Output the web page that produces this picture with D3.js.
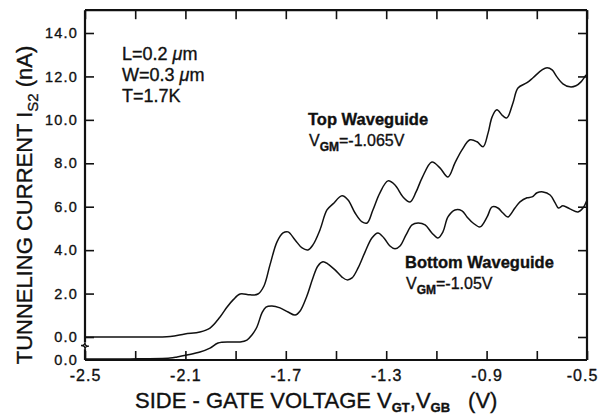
<!DOCTYPE html>
<html>
<head>
<meta charset="utf-8">
<script src="https://cdn.jsdelivr.net/npm/d3@7"></script>
<style>
body{margin:0;background:#fff;}
svg text{font-family:"Liberation Sans",Arial,sans-serif;fill:#111;stroke:#111;stroke-width:0.35px;}
</style>
</head>
<body>
<svg id="chart" width="601" height="417"></svg>
<script>
// tunnelling current vs side-gate voltage
// top waveguide (V_GM = -1.065 V)
var topV = [-2.5,-2.321,-2.161,-2.102,-2.042,-2.002,-1.962,-1.934,-1.910,-1.882,-1.843,-1.811,-1.787,-1.763,-1.735,-1.711,-1.691,-1.663,-1.635,-1.612,-1.592,-1.564,-1.536,-1.512,-1.476,-1.452,-1.424,-1.396,-1.376,-1.353,-1.325,-1.293,-1.265,-1.233,-1.205,-1.181,-1.157,-1.118,-1.086,-1.054,-1.026,-0.998,-0.966,-0.938,-0.914,-0.894,-0.878,-0.859,-0.835,-0.819,-0.795,-0.775,-0.739,-0.715,-0.679,-0.659,-0.639,-0.620,-0.596,-0.568,-0.544,-0.524,-0.504];
var topI = [0,0,0.02,0.14,0.23,0.41,0.92,1.38,1.71,1.98,1.94,1.98,2.35,3.32,4.38,4.79,4.84,4.47,4.10,4.01,4.24,4.93,5.85,6.13,6.50,6.31,5.71,5.30,5.25,5.85,6.64,7.19,7.00,6.45,6.22,6.68,7.33,8.06,7.79,7.37,8.02,8.62,9.08,8.99,8.76,9.40,10.14,10.46,10.18,10.09,10.78,11.47,11.71,11.94,12.30,12.40,12.30,11.98,11.66,11.52,11.57,11.75,12.07];
// bottom waveguide (V_GM = -1.05 V), drawn on its own shifted zero
var botV = [-2.5,-2.321,-2.161,-2.133,-2.094,-2.042,-2.002,-1.970,-1.922,-1.882,-1.855,-1.835,-1.815,-1.795,-1.779,-1.755,-1.723,-1.691,-1.663,-1.643,-1.616,-1.592,-1.572,-1.552,-1.532,-1.504,-1.476,-1.456,-1.436,-1.412,-1.384,-1.357,-1.333,-1.309,-1.285,-1.265,-1.245,-1.221,-1.197,-1.173,-1.145,-1.118,-1.094,-1.074,-1.054,-1.026,-0.998,-0.978,-0.954,-0.926,-0.898,-0.878,-0.855,-0.835,-0.815,-0.787,-0.767,-0.739,-0.719,-0.699,-0.675,-0.647,-0.627,-0.614,-0.596,-0.568,-0.536,-0.516,-0.500];
var botI = [0.05,0.05,0.09,0.14,0.23,0.37,0.55,0.78,0.83,0.83,0.92,1.15,1.52,2.17,2.44,2.49,2.40,2.21,2.07,2.26,2.95,3.78,4.33,4.52,4.42,4.15,3.82,3.69,3.78,4.24,4.98,5.62,5.85,5.62,5.25,5.12,5.25,5.76,6.22,6.31,6.22,5.85,5.62,5.90,6.59,6.91,6.87,6.59,6.31,6.13,6.59,7.05,7.00,6.77,6.59,7.00,7.28,7.47,7.51,7.70,7.74,7.60,7.24,7.00,7.10,6.96,6.82,7.00,7.37];

var xTicks = [-2.5,-2.3,-2.1,-1.9,-1.7,-1.5,-1.3,-1.1,-0.9,-0.7,-0.5];
var xLabels = [-2.5,-2.1,-1.7,-1.3,-0.9,-0.5];
var yTicks = [0,2,4,6,8,10,12,14];

var svg = d3.select("#chart");

var x = d3.scaleLinear().domain([-2.5,-0.5]).range([85,587]);
var yTop = d3.scaleLinear().domain([0,14]).range([337,33]);
var yBot = d3.scaleLinear().domain([0,14]).range([360,56]);

var frameTop = yTop(15.05), frameBot = yBot(0);

function fmt(d){ return d.toFixed(1); }

// left axis (inner ticks)
var gl = svg.append("g").attr("transform","translate(" + x(-2.5) + ",0)")
  .call(d3.axisLeft(yTop).tickValues(yTicks).tickSizeInner(-9).tickSizeOuter(0).tickPadding(7).tickFormat(fmt));
gl.append("g").call(d3.axisLeft(yBot).tickValues([0]).tickSize(0).tickPadding(7).tickFormat(fmt));

var gr = svg.append("g").attr("transform","translate(" + x(-0.5) + ",0)")
  .call(d3.axisRight(yTop).tickValues(yTicks).tickSizeInner(-9).tickSizeOuter(0).tickFormat(""));

var gb = svg.append("g").attr("transform","translate(0," + frameBot + ")")
  .call(d3.axisBottom(x).tickValues(xTicks).tickSizeInner(-9).tickSizeOuter(0).tickPadding(10)
    .tickFormat(function(d){
      return xLabels.some(function(l){ return Math.abs(l - d) < 1e-6; }) ? fmt(d) : "";
    }));

var gt = svg.append("g").attr("transform","translate(0," + frameTop + ")")
  .call(d3.axisTop(x).tickValues(xTicks).tickSizeInner(-9).tickSizeOuter(0).tickFormat(""));

svg.selectAll(".domain").remove();
svg.selectAll(".tick line").attr("stroke","#111").attr("stroke-width",1.6);
gl.selectAll("text").style("font-size","14.5px").style("letter-spacing","1.2px");
gb.selectAll("text").style("font-size","16px").style("letter-spacing","1px");
// last label sits against the window edge, as in the scan
gb.selectAll(".tick").filter(function(d){ return Math.abs(d + 0.5) < 1e-6; })
  .select("text").attr("dx",-5);

// frame, with a break in the left axis between the two zeros
var frame = svg.append("g").attr("fill","none").attr("stroke","#111").attr("stroke-width",2.2);
frame.append("line").attr("x1",x(-2.5)).attr("x2",x(-0.5)).attr("y1",frameTop).attr("y2",frameTop);
frame.append("line").attr("x1",x(-0.5)).attr("x2",x(-0.5)).attr("y1",frameTop).attr("y2",frameBot);
frame.append("line").attr("x1",x(-2.5)).attr("x2",x(-0.5)).attr("y1",frameBot).attr("y2",frameBot);
frame.append("line").attr("x1",x(-2.5)).attr("x2",x(-2.5)).attr("y1",frameTop).attr("y2",yTop(-0.25));
frame.append("line").attr("x1",x(-2.5)).attr("x2",x(-2.5)).attr("y1",yBot(0.5)).attr("y2",frameBot);
var bx = x(-2.5), b1 = yTop(-0.25), b2 = yBot(0.5);
frame.append("path").attr("stroke-width",1.4)
  .attr("d","M" + bx + "," + b1 + " q0,3 -4,3 q4,0 4,3");
frame.append("path").attr("stroke-width",1.4)
  .attr("d","M" + bx + "," + b2 + " q0,-3 4,-3 q-4,0 -4,-3");

// curves
var lineTop = d3.line().x(function(d){ return x(d[0]); }).y(function(d){ return yTop(d[1]); })
  .curve(d3.curveCatmullRom.alpha(0.5));
var lineBot = d3.line().x(function(d){ return x(d[0]); }).y(function(d){ return yBot(d[1]); })
  .curve(d3.curveCatmullRom.alpha(0.5));

svg.append("path").datum(d3.zip(topV, topI)).attr("d", lineTop)
  .attr("fill","none").attr("stroke","#111").attr("stroke-width",1.5);
svg.append("path").datum(d3.zip(botV, botI)).attr("d", lineBot)
  .attr("fill","none").attr("stroke","#111").attr("stroke-width",1.5);

// axis titles
var yt = svg.append("text").attr("transform","translate(32,205) rotate(-90)")
  .attr("text-anchor","middle").style("font-size","22px");
yt.append("tspan").text("TUNNELING CURRENT I");
yt.append("tspan").attr("dy",6).style("font-size","15px").text("S2");
yt.append("tspan").attr("dy",-6).attr("dx",6).text("(nA)");

var xt = svg.append("text").attr("x",135).attr("y",408).style("font-size","22px");
xt.append("tspan").text("SIDE - GATE VOLTAGE  V");
xt.append("tspan").attr("dy",4).style("font-size","13px").style("font-weight","bold").text("GT");
xt.append("tspan").attr("dy",-4).text(",V");
xt.append("tspan").attr("dy",4).style("font-size","13px").style("font-weight","bold").text("GB");
xt.append("tspan").attr("dy",-4).attr("dx",18).text("(V)");

// device parameters
var params = svg.append("g").style("font-size","18px");
var pl = params.append("text").attr("x",122).attr("y",60);
pl.append("tspan").text("L=0.2 ");
pl.append("tspan").style("font-style","italic").text("\u03bc");
pl.append("tspan").text("m");
var pw = params.append("text").attr("x",122).attr("y",81);
pw.append("tspan").text("W=0.3 ");
pw.append("tspan").style("font-style","italic").text("\u03bc");
pw.append("tspan").text("m");
params.append("text").attr("x",122).attr("y",102).text("T=1.7K");

// curve labels
function waveLabel(xp, yp, name, vgm){
  var g = svg.append("g");
  g.append("text").attr("x",xp).attr("y",yp).style("font-size","16.5px").style("font-weight","bold").text(name);
  var t = g.append("text").attr("x",xp + 1).attr("y",yp + 21).style("font-size","16px");
  t.append("tspan").text("V");
  t.append("tspan").attr("dy",5).style("font-size","12px").style("font-weight","bold").text("GM");
  t.append("tspan").attr("dy",-5).text("=" + vgm + "V");
}
waveLabel(308, 125, "Top Waveguide", "-1.065");
waveLabel(405, 268, "Bottom Waveguide", "-1.05");
</script>
</body>
</html>
